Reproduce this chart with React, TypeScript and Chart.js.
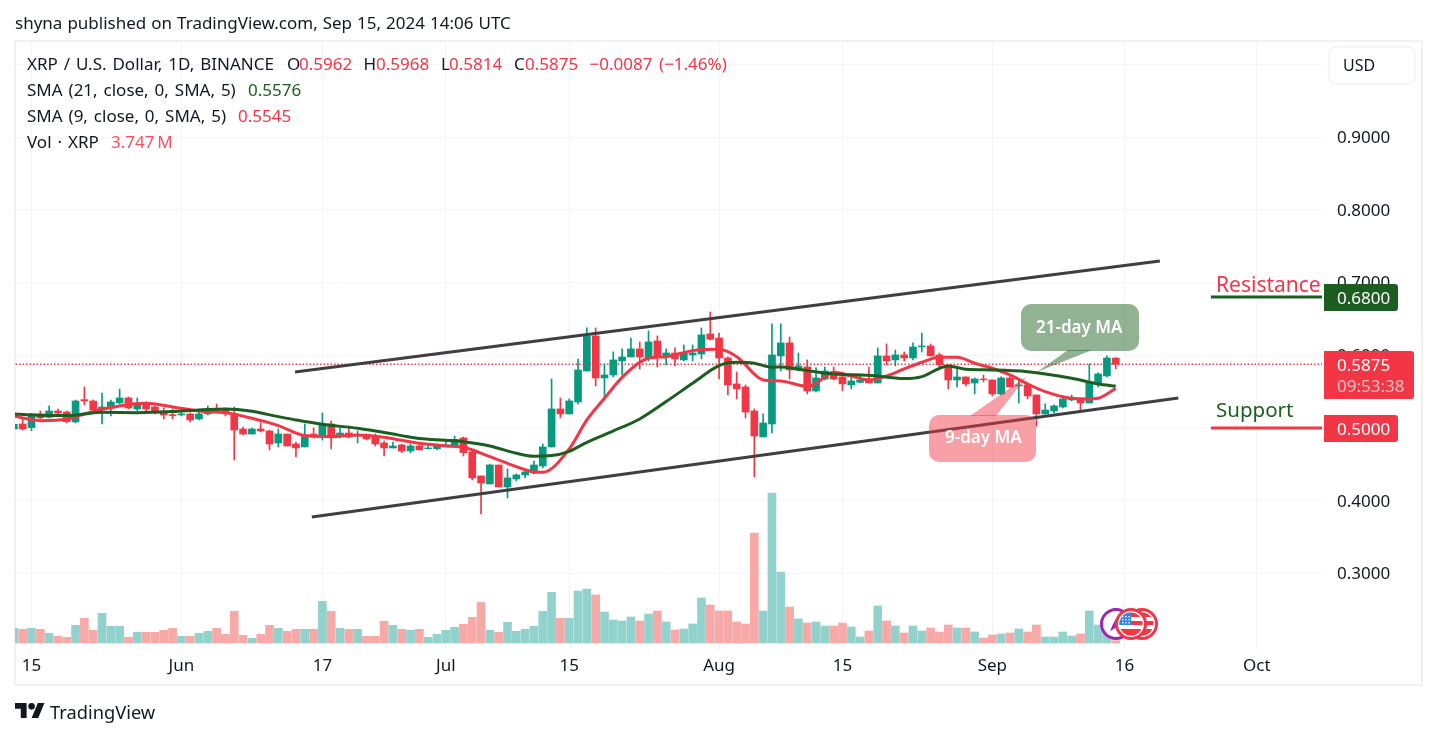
import { useEffect, useRef } from "react";
import { Chart, registerables } from "chart.js";

Chart.register(...registerables);

// daily candles, May 13 to Sep 15 2024 (day 0 is May 15)
const opens = [
  0.4986, 0.5055, 0.5005, 0.5193, 0.5147, 0.5234, 0.522, 0.5083, 0.539, 0.5371, 0.5257, 0.5275, 0.5344, 0.5413, 0.5261, 0.533, 0.5289, 0.5234, 0.5183,
  0.5179, 0.5193, 0.5124, 0.5193, 0.5257, 0.5261, 0.5202, 0.4986, 0.4917, 0.4986, 0.4959, 0.4794, 0.4917, 0.478, 0.4739, 0.4917, 0.4876, 0.5055, 0.489, 0.4931, 0.489, 0.4904, 0.489, 0.4794, 0.4725, 0.4767, 0.4684, 0.4753, 0.4716, 0.4716,
  0.4757, 0.4757, 0.4863, 0.467, 0.434, 0.423, 0.4491, 0.4189, 0.4299, 0.4354, 0.4381, 0.4478, 0.4739, 0.5262, 0.5193, 0.5358, 0.5784, 0.6266, 0.5688, 0.5729, 0.5922, 0.5977, 0.6087, 0.5963, 0.6197, 0.5991, 0.6032, 0.5936, 0.6005, 0.6018, 0.6293,
  0.6238, 0.5963, 0.5606, 0.5564, 0.5234, 0.4877, 0.5055, 0.5991, 0.617, 0.5798, 0.5839, 0.5509, 0.5674, 0.5771, 0.5702, 0.5592, 0.5628, 0.5674, 0.5619, 0.5991, 0.5936, 0.6005, 0.5963, 0.6119, 0.6128, 0.6005, 0.5867, 0.5661, 0.5702, 0.5619, 0.5674,
  0.5661, 0.5468, 0.5688, 0.5578, 0.5592, 0.5454, 0.5193, 0.5234, 0.5289, 0.5385, 0.5399, 0.5344, 0.5619, 0.5716, 0.5962,
];
const highs = [
  0.505, 0.5119, 0.5202, 0.5234, 0.5303, 0.5261, 0.5234, 0.5385, 0.5564, 0.5385, 0.5481, 0.5385, 0.5536, 0.5426, 0.5413, 0.5358, 0.5303, 0.5275, 0.5261,
  0.522, 0.5206, 0.5234, 0.5303, 0.533, 0.5275, 0.5289, 0.5014, 0.5, 0.5069, 0.4972, 0.4986, 0.4917, 0.4807, 0.5055, 0.5, 0.5206, 0.5096, 0.5, 0.5027, 0.4959, 0.4917, 0.4917, 0.4821, 0.4807, 0.478, 0.478, 0.4767, 0.4767, 0.478,
  0.4844, 0.489, 0.4877, 0.4684, 0.434, 0.4505, 0.4491, 0.4436, 0.4368, 0.4436, 0.4546, 0.478, 0.5674, 0.5413, 0.5399, 0.5949, 0.6376, 0.6376, 0.5881, 0.6046, 0.6087, 0.6238, 0.6183, 0.6335, 0.6266, 0.6087, 0.6101, 0.6142, 0.6142, 0.6376, 0.6596,
  0.6307, 0.5977, 0.5771, 0.5592, 0.5262, 0.5193, 0.6431, 0.6431, 0.6252, 0.6032, 0.5936, 0.5826, 0.5839, 0.5839, 0.5771, 0.5716, 0.5716, 0.5839, 0.6101, 0.6156, 0.6073, 0.6046, 0.617, 0.6307, 0.6156, 0.6032, 0.5867, 0.5853, 0.5702, 0.5688, 0.5725,
  0.5661, 0.5702, 0.5716, 0.5647, 0.5606, 0.5454, 0.5331, 0.5317, 0.5441, 0.5454, 0.5413, 0.5881, 0.5757, 0.5991, 0.5968,
];
const lows = [
  0.4986, 0.4972, 0.4963, 0.5124, 0.5138, 0.5188, 0.5069, 0.5069, 0.5316, 0.522, 0.5055, 0.5165, 0.533, 0.5261, 0.5234, 0.5206, 0.5193, 0.5124, 0.5124,
  0.5165, 0.5083, 0.511, 0.5179, 0.522, 0.5165, 0.456, 0.4904, 0.4917, 0.4945, 0.4697, 0.4739, 0.4752, 0.4601, 0.4739, 0.4862, 0.4835, 0.4711, 0.4862, 0.4862, 0.4794, 0.4835, 0.4752, 0.4615, 0.4725, 0.4661, 0.4661, 0.4698, 0.4711, 0.4702,
  0.4753, 0.4753, 0.4615, 0.4285, 0.3817, 0.423, 0.4189, 0.4037, 0.4271, 0.4313, 0.4368, 0.445, 0.4739, 0.5138, 0.5193, 0.5331, 0.5784, 0.5578, 0.5413, 0.5702, 0.5729, 0.5977, 0.5812, 0.5922, 0.5839, 0.5867, 0.5853, 0.5922, 0.5922, 0.5949, 0.6211,
  0.5674, 0.5454, 0.5399, 0.5138, 0.4326, 0.4877, 0.4932, 0.5784, 0.5674, 0.5784, 0.5468, 0.5496, 0.5661, 0.5661, 0.5509, 0.5537, 0.5619, 0.5619, 0.5619, 0.5867, 0.5853, 0.5922, 0.5936, 0.6046, 0.5991, 0.5798, 0.5537, 0.5564, 0.5578, 0.5468, 0.5633,
  0.5441, 0.5454, 0.5564, 0.5344, 0.5399, 0.5028, 0.5193, 0.5207, 0.5275, 0.5372, 0.5234, 0.5344, 0.5564, 0.5702, 0.5814,
];
const closes = [
  0.505, 0.4986, 0.5193, 0.5138, 0.5234, 0.5206, 0.5087, 0.5371, 0.5371, 0.5248, 0.5289, 0.5358, 0.5413, 0.5275, 0.5344, 0.5261, 0.522, 0.5179, 0.517,
  0.5193, 0.511, 0.5193, 0.5261, 0.5234, 0.5193, 0.4972, 0.4917, 0.4986, 0.4959, 0.478, 0.4917, 0.4752, 0.4725, 0.4904, 0.4876, 0.5041, 0.4876, 0.4931, 0.4876, 0.4899, 0.4849, 0.478, 0.4725, 0.4752, 0.4684, 0.4753, 0.4698, 0.4725, 0.4757,
  0.4767, 0.4844, 0.4661, 0.4313, 0.4244, 0.4491, 0.4189, 0.4313, 0.4354, 0.4395, 0.4491, 0.4739, 0.5262, 0.5193, 0.5372, 0.5798, 0.6266, 0.5688, 0.5729, 0.5936, 0.5977, 0.6087, 0.5977, 0.6183, 0.5977, 0.6032, 0.5949, 0.6032, 0.6032, 0.628, 0.622,
  0.5963, 0.5592, 0.5537, 0.522, 0.489, 0.5069, 0.6005, 0.617, 0.5798, 0.5853, 0.5509, 0.5688, 0.5784, 0.5674, 0.5606, 0.5647, 0.5661, 0.5619, 0.5991, 0.5922, 0.6005, 0.5963, 0.6114, 0.6128, 0.5991, 0.5867, 0.5661, 0.5702, 0.5606, 0.5674, 0.5665,
  0.5468, 0.5688, 0.5564, 0.5592, 0.5441, 0.5193, 0.5248, 0.5303, 0.5399, 0.5413, 0.5344, 0.5619, 0.5743, 0.5963, 0.5875,
];
// volume in millions
const volumes = [
  23.5, 21.9, 23.5, 21.9, 15.5, 10.7, 9.1, 28.3, 39.5, 20.3, 47.5, 26.7, 26.7, 9.1, 17.1, 17.1, 17.1, 20.3, 23.5,
  10.7, 10.7, 15.5, 18.7, 23.5, 13.9, 50.7, 12.3, 7.5, 13.9, 28.3, 23.5, 18.7, 21.9, 21.9, 21.9, 66.7, 50.7, 23.5, 21.9, 21.9, 10.7, 10.7, 34.7, 28.3, 21.9, 20.3, 21.9, 9.1, 13.9,
  20.3, 25.1, 29.9, 41.1, 65.1, 20.3, 17.1, 33.1, 18.7, 21.9, 26.7, 50.7, 81.1, 39.5, 39.5, 83.2, 86.3, 76.8, 49.6, 36.8, 35.2, 41.6, 35.2, 46.4, 51.2, 33.6, 20.8, 22.4, 30.4, 72, 60.8,
  51.2, 51.2, 33.6, 30.4, 175.9, 51.2, 239.9, 113.5, 57.6, 38.4, 32, 33.6, 27.2, 27.2, 32, 25.6, 9.6, 19.2, 59.2, 35.2, 27.2, 16, 27.2, 19.2, 24, 17.6, 28.8, 24, 24, 17.6, 8,
  12.8, 14.4, 16, 22.4, 17.6, 28.8, 9.6, 9.6, 17.6, 11.2, 14.4, 51.2, 28.8, 20, 3.747,
];
const days = opens.map((_, i) => i - 2);

// moving averages
const sma21Days = [-2, 0, 4, 6, 8, 12, 16, 19, 22, 25, 28, 30, 33, 37, 41, 42, 44, 47, 49, 52, 55, 57, 59, 61, 63, 66, 69, 72, 75, 78, 80, 82, 84, 85, 87, 91, 95, 99, 101, 103, 104, 106, 109, 113, 118, 121, 123];
const sma21Values = [0.5193, 0.5179, 0.517, 0.5193, 0.5215, 0.5211, 0.5225, 0.5248, 0.5261, 0.5229, 0.5156, 0.511, 0.505, 0.4995, 0.4917, 0.4895, 0.4854, 0.4831, 0.4812, 0.4753, 0.4652, 0.4611, 0.462, 0.4679, 0.4803, 0.4959, 0.5124, 0.5363, 0.5615, 0.5858, 0.5904, 0.589, 0.5835, 0.584, 0.5807, 0.5743, 0.5725, 0.5679, 0.5706, 0.5821, 0.5853, 0.5807, 0.5798, 0.5775, 0.5684, 0.5606, 0.5576];
const sma9Days = [-2, 1, 4, 6, 8, 10, 13, 16, 19, 22, 25, 28, 31, 34, 37, 40, 42, 44, 47, 49, 52, 55, 57, 58, 61, 63, 65, 67, 70, 72, 75, 78, 80, 83, 85, 87, 88, 89, 91, 93, 95, 97, 99, 101, 103, 105, 107, 109, 111, 113, 115, 118, 120, 121, 123];
const sma9Values = [0.5165, 0.5101, 0.5119, 0.5193, 0.5257, 0.5303, 0.5339, 0.5289, 0.5234, 0.5211, 0.5133, 0.5032, 0.4895, 0.4881, 0.4904, 0.4872, 0.483, 0.4789, 0.4753, 0.4734, 0.4606, 0.4469, 0.4395, 0.4391, 0.4711, 0.511, 0.5408, 0.5697, 0.5959, 0.5981, 0.6064, 0.6082, 0.5981, 0.5661, 0.5647, 0.5592, 0.5569, 0.5615, 0.5766, 0.5716, 0.5661, 0.5716, 0.5812, 0.5904, 0.5972, 0.5972, 0.589, 0.5821, 0.5729, 0.5606, 0.55, 0.5408, 0.5399, 0.5408, 0.5545];

// hand drawn channel and levels
const upperDays = [29.9, 128];
const upperPrices = [0.577, 0.7297];
const lowerDays = [31.8, 130.1];
const lowerPrices = [0.3776, 0.5413];
const levelDays = [133.8, 147];
const resistance = 0.68;
const support = 0.5;
const lastPrice = 0.5875;

const priceTicks = [0.3, 0.4, 0.5, 0.6, 0.7, 0.8, 0.9, 1];
const dateTicks = [0, 17, 33, 47, 61, 78, 92, 109, 124, 139];
const dateLabels = ["15", "Jun", "17", "Jul", "15", "Aug", "15", "Sep", "16", "Oct"];

const RED = "#F23645";
const GREEN = "#089981";
const DARK_GREEN = "#1B5E20";
const INK = "#131722";
const GRID = "#F3F4F7";
const FONT = '"Noto Sans", sans-serif';

const toPoints = (xs: number[], ys: number[]) => xs.map((x, i) => ({ x, y: ys[i] }));

function label(ctx: CanvasRenderingContext2D, s: string, x: number, y: number, size: number, color: string, weight = 400) {
  ctx.font = `${weight} ${size}px ${FONT}`;
  ctx.fillStyle = color;
  ctx.fillText(s, x, y);
}

function tag(ctx: CanvasRenderingContext2D, x: number, y: number, w: number, h: number, color: string) {
  ctx.fillStyle = color;
  ctx.beginPath();
  ctx.roundRect(x, y, w, h, [0, 3, 3, 0]);
  ctx.fill();
}

function callout(ctx: CanvasRenderingContext2D, x: number, y: number, w: number, h: number, tail: number[], color: string) {
  ctx.fillStyle = color;
  ctx.beginPath();
  ctx.roundRect(x, y, w, h, 10);
  ctx.fill();
  ctx.beginPath();
  ctx.moveTo(tail[0], tail[1]);
  ctx.lineTo(tail[2], tail[3]);
  ctx.lineTo(tail[4], tail[5]);
  ctx.closePath();
  ctx.fill();
}

function ring(ctx: CanvasRenderingContext2D, x: number, y: number, color: string) {
  ctx.fillStyle = "#fff";
  ctx.strokeStyle = color;
  ctx.lineWidth = 3;
  ctx.beginPath();
  ctx.arc(x, y, 14.5, 0, Math.PI * 2);
  ctx.fill();
  ctx.stroke();
}

function flag(ctx: CanvasRenderingContext2D, x: number, y: number) {
  ctx.save();
  ctx.beginPath();
  ctx.arc(x, y, 11.5, 0, Math.PI * 2);
  ctx.clip();
  ctx.fillStyle = RED;
  ctx.fillRect(x - 12, y - 12, 24, 5);
  ctx.fillRect(x - 12, y - 3, 24, 4);
  ctx.fillRect(x - 12, y + 5, 24, 8);
  ctx.fillStyle = "#2E86EE";
  ctx.fillRect(x - 12, y - 12, 12, 13);
  ctx.fillStyle = "#fff";
  for (let i = 0; i < 3; i++) {
    for (let j = 0; j < 3; j++) {
      ctx.fillRect(x - 9 + i * 3.2, y - 8 + j * 3, 1.4, 1.4);
    }
  }
  ctx.restore();
}

const backdrop = {
  id: "backdrop",
  beforeDraw(chart: Chart) {
    const { ctx } = chart;
    ctx.save();
    ctx.fillStyle = "#fff";
    ctx.fillRect(0, 0, 1437, 738);
    ctx.strokeStyle = "#F0F0F5";
    ctx.lineWidth = 2;
    ctx.strokeRect(15, 41, 1407, 644);
    ctx.restore();
  },
};

const overlay = {
  id: "overlay",
  afterDraw(chart: Chart) {
    const { ctx } = chart;
    ctx.save();
    ctx.textBaseline = "alphabetic";
    ctx.textAlign = "left";

    ctx.wordSpacing = "0.6px";
    label(ctx, "shyna published on TradingView.com, Sep 15, 2024 14:06 UTC", 15, 29, 17, INK);

    ctx.wordSpacing = "1.5px";
    label(ctx, "XRP / U.S. Dollar, 1D, BINANCE", 27, 70, 17, INK);
    label(ctx, "SMA (21, close, 0, SMA, 5)", 27, 96, 17, INK);
    label(ctx, "SMA (9, close, 0, SMA, 5)", 27, 122, 17, INK);
    label(ctx, "Vol \u00B7 XRP", 27, 148, 17, INK);
    ctx.wordSpacing = "0px";

    label(ctx, "O", 287, 70, 17, INK);
    label(ctx, "0.5962", 299, 70, 17, RED);
    label(ctx, "H", 363.5, 70, 17, INK);
    label(ctx, "0.5968", 376, 70, 17, RED);
    label(ctx, "L", 441, 70, 17, INK);
    label(ctx, "0.5814", 449, 70, 17, RED);
    label(ctx, "C", 514, 70, 17, INK);
    label(ctx, "0.5875", 525, 70, 17, RED);
    label(ctx, "\u22120.0087", 589.5, 70, 17, RED);
    label(ctx, "(\u22121.46%)", 659, 70, 17, RED);
    label(ctx, "0.5576", 248, 96, 17, DARK_GREEN);
    label(ctx, "0.5545", 238, 122, 17, RED);
    label(ctx, "3.747\u2009M", 111, 148, 17, "#F7525F");

    // currency button
    ctx.fillStyle = "#fff";
    ctx.strokeStyle = "#F0F3FA";
    ctx.lineWidth = 1.5;
    ctx.beginPath();
    ctx.roundRect(1329, 47, 86, 37, 7);
    ctx.fill();
    ctx.stroke();
    label(ctx, "USD", 1343, 71, 16, INK);

    // drawn annotations
    callout(ctx, 1021, 304, 118, 47, [1037, 372, 1068, 350, 1092, 350], "rgba(27,94,32,0.48)");
    label(ctx, "21-day MA", 1036, 333, 17, "#fff", 600);
    callout(ctx, 929, 415, 107, 47, [1027, 376, 970, 416, 996, 416], "rgba(242,54,69,0.48)");
    label(ctx, "9-day MA", 945, 443, 17, "#fff", 600);
    label(ctx, "Resistance", 1216, 292, 21, RED);
    label(ctx, "Support", 1216, 417, 20.5, DARK_GREEN);

    // price tags
    tag(ctx, 1324, 284, 74, 27, DARK_GREEN);
    label(ctx, "0.6800", 1337, 303.5, 17, "#fff");
    tag(ctx, 1324, 351, 90, 48, RED);
    label(ctx, "0.5875", 1337, 371, 17, "#fff");
    label(ctx, "09:53:38", 1337, 392, 17, "rgba(255,255,255,0.65)");
    tag(ctx, 1324, 415, 74, 27, RED);
    label(ctx, "0.5000", 1337, 435, 17, "#fff");

    // event markers
    ring(ctx, 1116, 624, "#9C27B0");
    ctx.fillStyle = "#9C27B0";
    ctx.beginPath();
    ctx.moveTo(1117, 617);
    ctx.lineTo(1117, 625);
    ctx.lineTo(1121, 625);
    ctx.lineTo(1110, 631);
    ctx.lineTo(1113, 624);
    ctx.closePath();
    ctx.fill();
    ring(ctx, 1142, 624, RED);
    flag(ctx, 1142, 624);
    ring(ctx, 1131, 624, RED);
    flag(ctx, 1131, 624);

    // footer logo
    ctx.save();
    ctx.translate(15, 699.7);
    ctx.scale(0.83, 0.83);
    ctx.fillStyle = INK;
    ctx.fill(new Path2D("M14 22H7V11H0V4h14v18zM28 22h-8l7.5-18h8L28 22z"));
    ctx.beginPath();
    ctx.arc(20, 8, 4, 0, Math.PI * 2);
    ctx.fill();
    ctx.restore();
    label(ctx, "TradingView", 50, 719, 18.3, INK);
    ctx.restore();
  },
};

export default function App() {
  const canvasRef = useRef<HTMLCanvasElement>(null);

  useEffect(() => {
    if (!canvasRef.current) return;
    const candleColors = opens.map((o, i) => (closes[i] < o ? RED : GREEN));
    const volumeColors = opens.map((o, i) => (closes[i] < o ? "#F7A9A7" : "#92D2CC"));

    const chart = new Chart(canvasRef.current, {
      type: "bar",
      data: {
        datasets: [
          {
            type: "line",
            data: toPoints(upperDays, upperPrices),
            borderColor: "#3F3F42",
            borderWidth: 3,
            pointRadius: 0,
            order: 0,
          },
          {
            type: "line",
            data: toPoints(lowerDays, lowerPrices),
            borderColor: "#3F3F42",
            borderWidth: 3,
            pointRadius: 0,
            order: 0,
          },
          {
            type: "line",
            data: toPoints(levelDays, [resistance, resistance]),
            borderColor: DARK_GREEN,
            borderWidth: 3,
            pointRadius: 0,
            order: 0,
          },
          {
            type: "line",
            data: toPoints(levelDays, [support, support]),
            borderColor: RED,
            borderWidth: 3,
            pointRadius: 0,
            order: 0,
          },
          {
            type: "line",
            data: toPoints(sma21Days, sma21Values),
            borderColor: DARK_GREEN,
            borderWidth: 3,
            pointRadius: 0,
            cubicInterpolationMode: "monotone",
            order: 1,
          },
          {
            type: "line",
            data: toPoints(sma9Days, sma9Values),
            borderColor: RED,
            borderWidth: 3,
            pointRadius: 0,
            cubicInterpolationMode: "monotone",
            order: 2,
          },
          {
            data: days.map((d, i) => ({ x: d, y: [opens[i], closes[i]] })),
            backgroundColor: candleColors,
            barThickness: 7,
            order: 3,
          },
          {
            data: days.map((d, i) => ({ x: d, y: [lows[i], highs[i]] })),
            backgroundColor: candleColors,
            barThickness: 1,
            order: 4,
          },
          {
            data: days.map((d, i) => ({ x: d, y: volumes[i] })),
            backgroundColor: volumeColors,
            barThickness: 8,
            yAxisID: "vol",
            order: 6,
          },
          {
            type: "line",
            data: toPoints([-3, 147], [lastPrice, lastPrice]),
            borderColor: RED,
            borderWidth: 1.5,
            borderDash: [1.5, 2],
            pointRadius: 0,
            order: 5,
          },
        ],
      },
      options: {
        responsive: false,
        animation: false,
        devicePixelRatio: 1,
        events: [],
        layout: { padding: { left: 15, top: 41 } },
        datasets: { bar: { grouped: false } },
        plugins: { legend: { display: false }, tooltip: { enabled: false } },
        scales: {
          x: {
            type: "linear",
            min: -1.872,
            max: 146.4,
            offset: false,
            grid: { color: GRID, drawTicks: false, offset: false },
            border: { display: false },
            afterBuildTicks: (scale) => {
              scale.ticks = dateTicks.map((value) => ({ value }));
            },
            afterFit: (scale) => {
              scale.height = 88;
            },
            ticks: {
              autoSkip: false,
              maxRotation: 0,
              padding: 6,
              color: INK,
              font: { family: FONT, size: 17 },
              callback: (v) => dateLabels[dateTicks.indexOf(Number(v))],
            },
          },
          y: {
            position: "right",
            min: 0.1946,
            max: 1.0323,
            grid: { color: GRID, drawTicks: false },
            border: { display: false },
            afterBuildTicks: (scale) => {
              scale.ticks = priceTicks.map((value) => ({ value }));
            },
            afterFit: (scale) => {
              scale.width = 115;
            },
            ticks: {
              padding: 15,
              labelOffset: 1,
              color: INK,
              font: { family: FONT, size: 17 },
              callback: (v) => (Number(v) >= 1 ? "" : Number(v).toFixed(4)),
            },
          },
          vol: {
            display: false,
            min: -11.2,
            max: 963.2,
          },
        },
      },
      plugins: [backdrop, overlay],
    });

    return () => chart.destroy();
  }, []);

  return (
    <div style={{ position: "absolute", left: 0, top: 0, width: 1437, height: 738 }}>
      <canvas ref={canvasRef} width={1437} height={738} style={{ display: "block" }} />
    </div>
  );
}
